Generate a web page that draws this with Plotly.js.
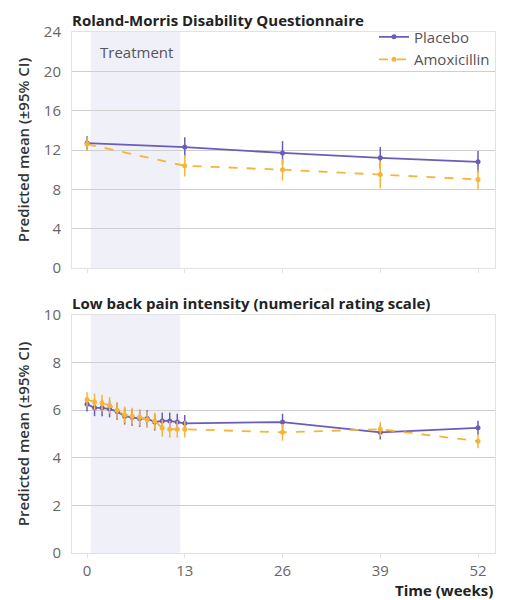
<!DOCTYPE html>
<html><head><meta charset="utf-8">
<script src="https://cdn.plot.ly/plotly-3.0.1.min.js"></script>
<style>html,body{margin:0;padding:0;background:#fff}#chart{width:507px;height:600px}</style>
</head><body><div id="chart"></div>
<script>
// Roland-Morris Disability Questionnaire
const rmWeeks = [0, 13, 26, 39, 52];
const rmPlacebo = [12.7, 12.3, 11.7, 11.2, 10.8];
const rmPlaceboCI = [0.7, 1.0, 1.2, 1.1, 1.1];
const rmAmox = [12.6, 10.4, 10.0, 9.5, 9.0];
const rmAmoxCI = [0.7, 1.1, 1.1, 1.4, 1.0];

// Low back pain intensity (NRS)
const nrsWeeks = [0,1,2,3,4,5,6,7,8,9,10,11,12,13,26,39,52];
const nrsPlacebo = [6.25,6.1,6.1,6.05,5.95,5.75,5.7,5.65,5.65,5.5,5.55,5.55,5.5,5.45,5.5,5.07,5.26];
const nrsPlaceboCI = [0.3,0.35,0.35,0.35,0.35,0.35,0.35,0.35,0.35,0.35,0.35,0.35,0.35,0.35,0.35,0.3,0.3];
const nrsAmox = [6.45,6.35,6.3,6.2,6.0,5.8,5.75,5.7,5.6,5.55,5.25,5.2,5.2,5.2,5.07,5.2,4.7];
const nrsAmoxCI = [0.3,0.35,0.35,0.35,0.35,0.35,0.35,0.35,0.35,0.35,0.35,0.35,0.35,0.35,0.35,0.3,0.3];

const xTicks = [0, 13, 26, 39, 52];
const treatment = [0.5, 12.4];

const purple = '#6a5cb8';
const orange = '#f5b53a';
const FONT = '"Open Sans", Lato, sans-serif';

function tr(x, y, e, name, color, dash, xa, ya, show) {
  return {
    x: x, y: y, name: name, type: 'scatter', mode: 'lines+markers',
    xaxis: xa, yaxis: ya, showlegend: show, legendgroup: name,
    line: {color: color, width: 1.8, dash: dash},
    marker: {color: color, size: 5},
    error_y: {type: 'data', array: e, visible: true, color: color, thickness: 1.5, width: 0}
  };
}

const data = [
  tr(rmWeeks, rmPlacebo, rmPlaceboCI, 'Placebo', purple, 'solid', 'x2', 'y2', true),
  tr(rmWeeks, rmAmox, rmAmoxCI, 'Amoxicillin', orange, 'dash', 'x2', 'y2', true),
  tr(nrsWeeks, nrsPlacebo, nrsPlaceboCI, 'Placebo', purple, 'solid', 'x', 'y', false),
  tr(nrsWeeks, nrsAmox, nrsAmoxCI, 'Amoxicillin', orange, 'dash', 'x', 'y', false)
];

const xr = [-2, 54.26];
const axY = {
  showgrid: true, gridcolor: '#cfcfcf', gridwidth: 1, zeroline: false,
  showline: true, mirror: true, linecolor: '#e2e2e2', linewidth: 1,
  ticks: '', ticklabelstandoff: 7,
  tickfont: {family: FONT, size: 15, color: '#666'},
  title: {text: 'Predicted mean (±95% CI)', font: {family: FONT, size: 15, color: '#333', weight: 600}, standoff: 10}
};
const axX = {
  range: xr, tickmode: 'array', tickvals: xTicks, showgrid: false, zeroline: false,
  showline: true, mirror: true, linecolor: '#e2e2e2', linewidth: 1,
  ticks: 'outside', ticklen: 4, tickcolor: '#e2e2e2',
  tickfont: {family: FONT, size: 15, color: '#666'}
};

const layout = {
  width: 507, height: 600,
  margin: {l: 72, r: 12, t: 32, b: 47},
  paper_bgcolor: '#fff', plot_bgcolor: '#fff',
  font: {family: FONT},
  showlegend: true,
  legend: {x: 1, xanchor: 'right', y: 1.022, yanchor: 'top', bgcolor: 'rgba(0,0,0,0)',
           font: {family: FONT, size: 15, color: '#555'}, tracegroupgap: 0, itemwidth: 30},
  xaxis: Object.assign({}, axX, {anchor: 'y'}),
  yaxis: Object.assign({}, axY, {domain: [0, 0.4568], range: [0, 10], tickvals: [0,2,4,6,8,10], anchor: 'x'}),
  xaxis2: Object.assign({}, axX, {anchor: 'y2', showticklabels: false}),
  yaxis2: Object.assign({}, axY, {domain: [0.547, 1], range: [0, 24], tickvals: [0,4,8,12,16,20,24], anchor: 'x2'}),
  shapes: [
    {type: 'rect', xref: 'x2', yref: 'y2 domain', x0: treatment[0], x1: treatment[1], y0: 0, y1: 1,
     fillcolor: '#f0f0f8', line: {width: 0}, layer: 'below'},
    {type: 'rect', xref: 'x', yref: 'y domain', x0: treatment[0], x1: treatment[1], y0: 0, y1: 1,
     fillcolor: '#f0f0f8', line: {width: 0}, layer: 'below'}
  ],
  annotations: [
    {text: '<b>Roland-Morris Disability Questionnaire</b>', xref: 'paper', yref: 'paper',
     x: -0.005, y: 1.0, xanchor: 'left', yanchor: 'bottom', yshift: 0, showarrow: false,
     font: {family: FONT, size: 15, color: '#222'}},
    {text: '<b>Low back pain intensity (numerical rating scale)</b>', xref: 'paper', yref: 'paper',
     x: -0.005, y: 0.4568, xanchor: 'left', yanchor: 'bottom', yshift: 0, showarrow: false,
     font: {family: FONT, size: 15, color: '#222'}},
    {text: 'Treatment', xref: 'x2', yref: 'y2', x: 1.5, y: 22.0, xanchor: 'left', yanchor: 'middle',
     showarrow: false, font: {family: FONT, size: 15, color: '#555'}},
    {text: '<b>Time (weeks)</b>', xref: 'paper', yref: 'paper', x: 1.0, y: 0, xanchor: 'right', yanchor: 'top',
     yshift: -25, showarrow: false, font: {family: FONT, size: 15, color: '#222'}}
  ]
};

Plotly.newPlot('chart', data, layout, {displayModeBar: false, staticPlot: true});
</script></body></html>
